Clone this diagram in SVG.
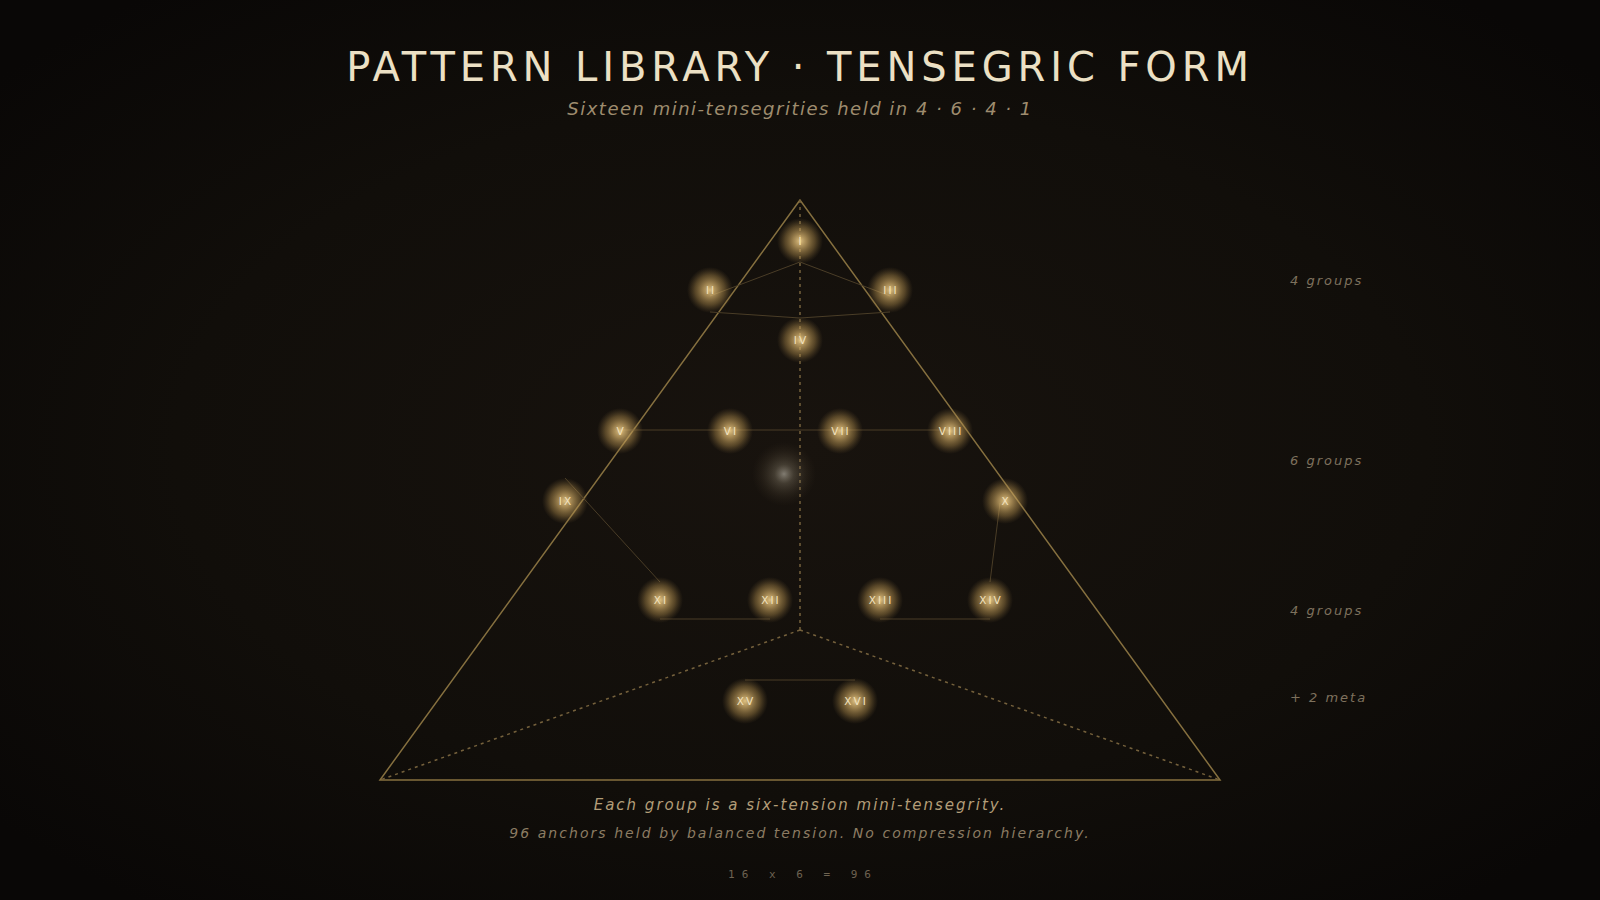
<svg xmlns="http://www.w3.org/2000/svg" width="1600" height="900" viewBox="0 0 1600 900">
<defs>
<radialGradient id="bg" cx="50%" cy="50%" r="65%">
<stop offset="0" stop-color="#18130e"/>
<stop offset="0.6" stop-color="#110e0a"/>
<stop offset="1" stop-color="#090706"/>
</radialGradient>
<radialGradient id="glow">
<stop offset="0" stop-color="#f4d48e" stop-opacity="0.9"/>
<stop offset="0.3" stop-color="#dcb66e" stop-opacity="0.68"/>
<stop offset="0.65" stop-color="#b8934f" stop-opacity="0.4"/>
<stop offset="1" stop-color="#8a6d3c" stop-opacity="0"/>
</radialGradient>
<radialGradient id="metaglow">
<stop offset="0" stop-color="#d8d2c4" stop-opacity="0.55"/>
<stop offset="0.3" stop-color="#b0a48a" stop-opacity="0.28"/>
<stop offset="0.7" stop-color="#7a6a50" stop-opacity="0.12"/>
<stop offset="1" stop-color="#5a4a35" stop-opacity="0"/>
</radialGradient>
<style>
.title{font-family:"DejaVu Sans",sans-serif;font-size:40px;letter-spacing:4.9px;fill:#ece0c4;text-anchor:middle}
.sub{font-family:"DejaVu Sans",sans-serif;font-style:italic;font-size:18px;letter-spacing:1.5px;fill:#9e8c6e;text-anchor:middle}
.side{font-family:"DejaVu Sans",sans-serif;font-style:italic;font-size:13px;letter-spacing:2px;fill:#7e715d}
.foot1{font-family:"DejaVu Sans",sans-serif;font-style:italic;font-size:15px;letter-spacing:2px;fill:#b39d78;text-anchor:middle}
.foot2{font-family:"DejaVu Sans",sans-serif;font-style:italic;font-size:14px;letter-spacing:2.05px;fill:#8c7c63;text-anchor:middle}
.foot3{font-family:"DejaVu Sans Mono",monospace;font-size:11px;letter-spacing:7px;fill:#6e6352;text-anchor:middle}
.lbl{font-family:"DejaVu Sans",sans-serif;font-size:10.5px;letter-spacing:2px;fill:#f2e2bf;text-anchor:middle}
.frame{fill:none;stroke:#86703f;stroke-width:1.5}
.dash{fill:none;stroke:#75613c;stroke-width:1.5;stroke-dasharray:3 4}
.ten{fill:none;stroke:#4a3d27;stroke-width:1}
</style>
</defs>
<rect width="1600" height="900" fill="url(#bg)"/>
<text class="title" x="800" y="81">PATTERN LIBRARY · TENSEGRIC FORM</text>
<text class="sub" x="800" y="115">Sixteen mini-tensegrities held in 4 · 6 · 4 · 1</text>

<g id="frame">
<polygon class="frame" points="800,200 380,780 1220,780"/>
<path class="dash" d="M800,200 L800,630 M800,630 L380,780 M800,630 L1220,780"/>
</g>

<g id="connectors">
<path class="ten" d="M800,262 L710,296 M800,262 L890,296"/>
<path class="ten" d="M710,312 L800,318 L890,312"/>
<path class="ten" d="M620,430 L950,430"/>
<path class="ten" d="M565,478 L660,582"/>
<path class="ten" d="M1000,503 L990,582"/>
<path class="ten" d="M660,619 L770,619"/>
<path class="ten" d="M880,619 L990,619"/>
<path class="ten" d="M745,680 L855,680"/>
</g>

<g id="meta">
<circle cx="784" cy="474" r="32" fill="url(#metaglow)"/>
</g>

<g id="n1"><circle cx="800" cy="241" r="23" fill="url(#glow)"/><text class="lbl" x="801" y="245">I</text></g>
<g id="n2"><circle cx="710" cy="290" r="23" fill="url(#glow)"/><text class="lbl" x="711" y="294">II</text></g>
<g id="n3"><circle cx="890" cy="290" r="23" fill="url(#glow)"/><text class="lbl" x="891" y="294">III</text></g>
<g id="n4"><circle cx="800" cy="340" r="23" fill="url(#glow)"/><text class="lbl" x="801" y="344">IV</text></g>
<g id="n5"><circle cx="620" cy="431" r="23" fill="url(#glow)"/><text class="lbl" x="621" y="435">V</text></g>
<g id="n6"><circle cx="730" cy="431" r="23" fill="url(#glow)"/><text class="lbl" x="731" y="435">VI</text></g>
<g id="n7"><circle cx="840" cy="431" r="23" fill="url(#glow)"/><text class="lbl" x="841" y="435">VII</text></g>
<g id="n8"><circle cx="950" cy="431" r="23" fill="url(#glow)"/><text class="lbl" x="951" y="435">VIII</text></g>
<g id="n9"><circle cx="565" cy="501" r="23" fill="url(#glow)"/><text class="lbl" x="566" y="505">IX</text></g>
<g id="n10"><circle cx="1005" cy="501" r="23" fill="url(#glow)"/><text class="lbl" x="1006" y="505">X</text></g>
<g id="n11"><circle cx="660" cy="600" r="23" fill="url(#glow)"/><text class="lbl" x="661" y="604">XI</text></g>
<g id="n12"><circle cx="770" cy="600" r="23" fill="url(#glow)"/><text class="lbl" x="771" y="604">XII</text></g>
<g id="n13"><circle cx="880" cy="600" r="23" fill="url(#glow)"/><text class="lbl" x="881" y="604">XIII</text></g>
<g id="n14"><circle cx="990" cy="600" r="23" fill="url(#glow)"/><text class="lbl" x="991" y="604">XIV</text></g>
<g id="n15"><circle cx="745" cy="701" r="23" fill="url(#glow)"/><text class="lbl" x="746" y="705">XV</text></g>
<g id="n16"><circle cx="855" cy="701" r="23" fill="url(#glow)"/><text class="lbl" x="856" y="705">XVI</text></g>

<g id="side-labels">
<text class="side" x="1290" y="285">4 groups</text>
<text class="side" x="1290" y="465">6 groups</text>
<text class="side" x="1290" y="615">4 groups</text>
<text class="side" x="1290" y="702">+ 2 meta</text>
</g>

<text class="foot1" x="800" y="810">Each group is a six-tension mini-tensegrity.</text>
<text class="foot2" x="800" y="838">96 anchors held by balanced tension. No compression hierarchy.</text>
<text class="foot3" x="803" y="878">16 x 6 = 96</text>
</svg>
